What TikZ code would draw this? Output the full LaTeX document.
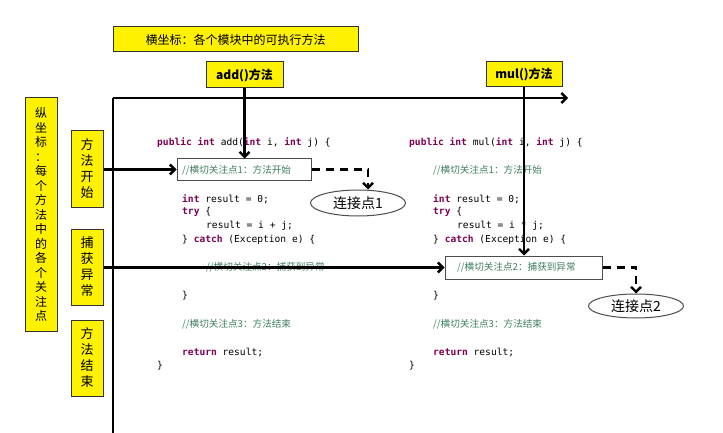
\documentclass[tikz,border=0pt]{standalone}
\usepackage{fontspec}
\setmainfont{Liberation Sans}
\setmonofont{DejaVu Sans Mono}
\newfontfamily\cjk{Noto Sans CJK SC}
\usetikzlibrary{arrows.meta,shapes.geometric}
\definecolor{kw}{HTML}{7F0055}
\definecolor{cm}{HTML}{3F7F5F}
\definecolor{yel}{HTML}{FFF200}
\tikzset{
 ybox/.style={draw=black!80,fill=yel,line width=1pt,inner sep=0pt,font=\cjk\fontsize{12}{14}\selectfont},
 code/.style={anchor=west,inner sep=0pt,font=\ttfamily\fontsize{9.6}{11}\selectfont},
 cbox/.style={draw=black!70,line width=1pt,fill=white,inner sep=0pt},
 arr/.style={line width=2.4pt,-{Straight Barb[length=5pt,width=10pt]}},
 darr/.style={line width=2.4pt,dash pattern=on 8pt off 6pt,-{Straight Barb[length=5pt,width=10pt]}},
 ell/.style={draw=black!70,ellipse,line width=1pt,minimum width=95pt,minimum height=26pt,inner sep=0pt,font=\cjk\fontsize{14}{16}\selectfont}
}
\newcommand{\K}[1]{\textcolor{kw}{\textbf{#1}}}
\newcommand{\CM}[1]{\textcolor{cm}{{\cjk\fontsize{9.6}{11}\selectfont #1}}}
\begin{document}
\begin{tikzpicture}[x=1pt,y=-1pt]
\useasboundingbox (0,0) rectangle (723,433);
% yellow boxes
\node[ybox,minimum width=245pt,minimum height=25pt] (title) at (235.5,39.5) {横坐标：各个模块中的可执行方法};
\node[ybox,minimum width=77pt,minimum height=26pt,font=\cjk\bfseries\fontsize{12}{14}\selectfont] (add) at (244.5,75) {add()方法};
\node[ybox,minimum width=76pt,minimum height=25pt,font=\cjk\bfseries\fontsize{12}{14}\selectfont] (mul) at (524,74.5) {mul()方法};
\node[ybox,minimum width=32pt,minimum height=233pt,align=center,font=\cjk\fontsize{12}{14.5}\selectfont] (ylab) at (41,214.5) {纵\\坐\\标\\：\\每\\个\\方\\法\\中\\的\\各\\个\\关\\注\\点};
\node[ybox,minimum width=32pt,minimum height=76pt,align=center,font=\cjk\fontsize{13}{16}\selectfont] (start) at (87,169) {方\\法\\开\\始};
\node[ybox,minimum width=32pt,minimum height=76pt,align=center,font=\cjk\fontsize{13}{16}\selectfont] (catch) at (87,267) {捕\\获\\异\\常};
\node[ybox,minimum width=32pt,minimum height=76pt,align=center,font=\cjk\fontsize{13}{16}\selectfont] (end) at (87,358) {方\\法\\结\\束};
% axes
\coordinate (o) at (113,98);
\coordinate (xe) at (568,98);
\coordinate (ye) at (113,433);
\draw[arr] (o) -- (xe);
\draw[line width=2.4pt] (o) -- (ye);
% left code
\node[code] (l1) at (157,143) {\K{public} \K{int} add(\K{int} i, \K{int} j) \{};
\node[cbox,minimum width=134pt,minimum height=21pt] (b1) at (244,169.5) {};
\node[code] (l2) at (182,170) {\CM{//横切关注点1：方法开始}};
\node[code] (l3) at (182,199) {\K{int} result = 0;};
\node[code] (l4) at (182,212) {\K{try} \{};
\node[code] (l5) at (206,226) {result = i + j;};
\node[code] (l6) at (182,240) {\} \K{catch} (Exception e) \{};
\node[code] (l7) at (206,267) {\CM{//横切关注点2：捕获到异常}};
\node[code] (l8) at (182,296) {\}};
\node[code] (l9) at (182,324) {\CM{//横切关注点3：方法结束}};
\node[code] (l10) at (182,352) {\K{return} result;};
\node[code] (l11) at (157,366) {\}};
% right code
\node[code] (r1) at (409,143) {\K{public} \K{int} mul(\K{int} i, \K{int} j) \{};
\node[code] (r2) at (433,170) {\CM{//横切关注点1：方法开始}};
\node[code] (r3) at (433,199) {\K{int} result = 0;};
\node[code] (r4) at (433,212) {\K{try} \{};
\node[code] (r5) at (457,226) {result = i * j;};
\node[code] (r6) at (433,240) {\} \K{catch} (Exception e) \{};
\node[cbox,minimum width=157pt,minimum height=23pt] (b2) at (523.5,267.5) {};
\node[code] (r7) at (457,267) {\CM{//横切关注点2：捕获到异常}};
\node[code] (r8) at (433,296) {\}};
\node[code] (r9) at (433,324) {\CM{//横切关注点3：方法结束}};
\node[code] (r10) at (433,352) {\K{return} result;};
\node[code] (r11) at (409,366) {\}};
% ellipses
\node[ell] (j1) at (358,203) {连接点1};
\node[ell,minimum height=24pt] (j2) at (636,306) {连接点2};
% arrows
\draw[arr] (add.south) -- (add.south |- b1.north);
\draw[arr] (mul.south) -- (mul.south |- b2.north);
\draw[arr] (start.east |- b1.west) -- (b1.west);
\draw[arr] (catch.east |- b2.west) -- (b2.west);
\draw[darr] (b1.east) -| (j1.north -| 368,0);
\draw[darr] (b2.east) -| (j2.north);
\end{tikzpicture}
\end{document}
